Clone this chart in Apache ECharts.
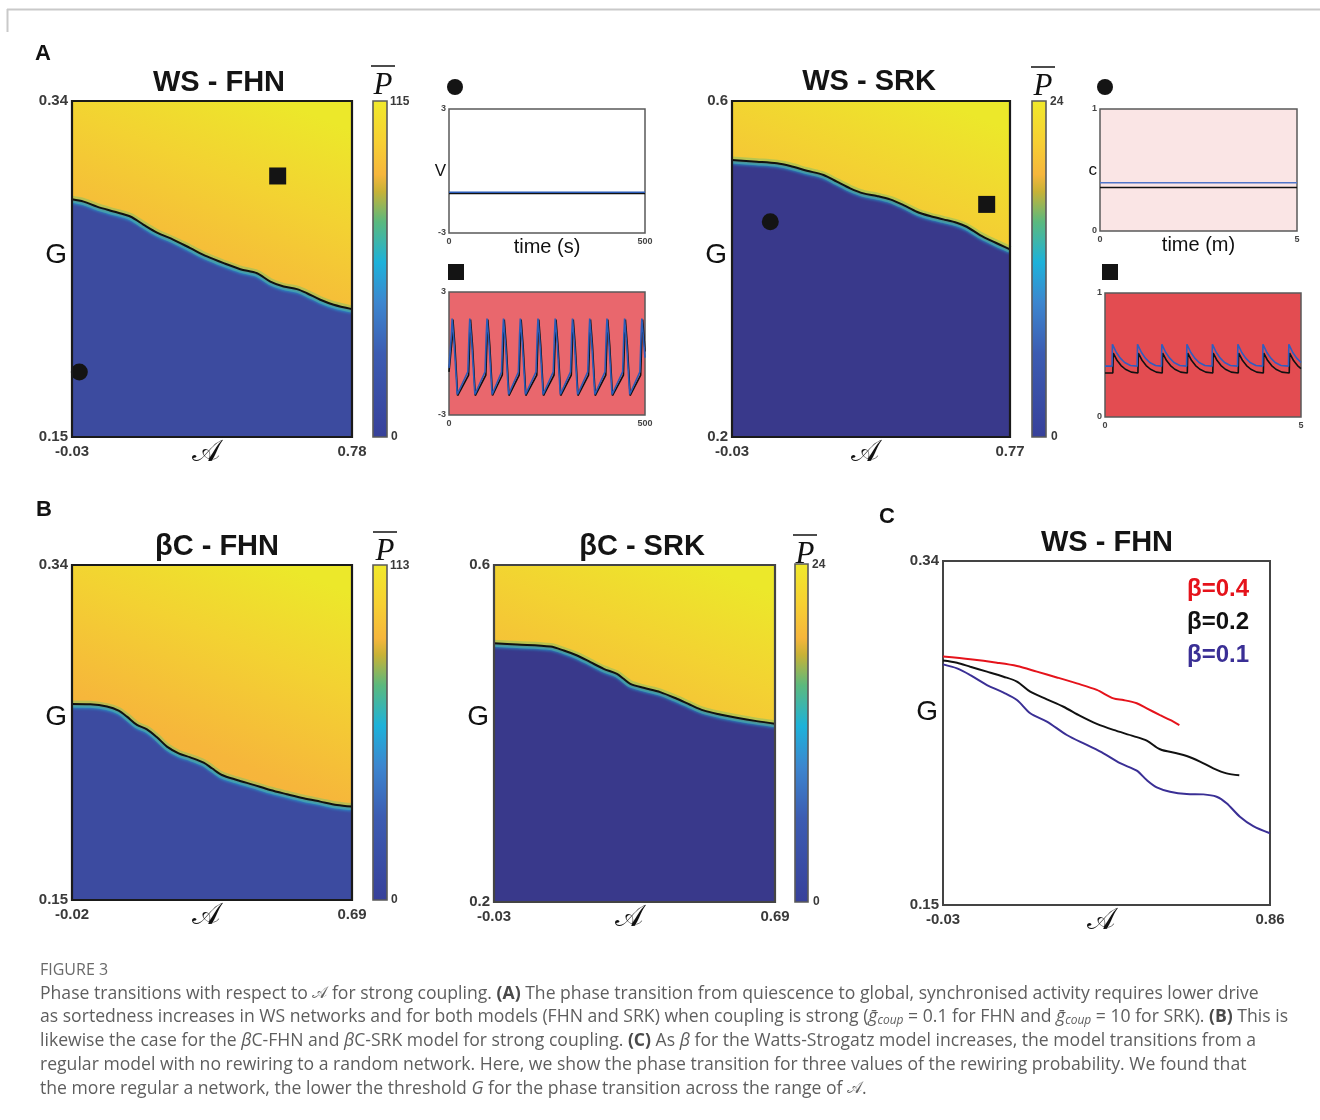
<!DOCTYPE html>
<html><head><meta charset="utf-8">
<script src="https://cdn.jsdelivr.net/npm/echarts@6/dist/echarts.min.js"></script>
<style>html,body{margin:0;padding:0;background:#fff}#c{width:1320px;height:1120px}</style>
</head><body><div id="c"></div>
<script>
// ---------------- DATA ----------------
// Panel A: WS - FHN  (A, G) boundary of the phase transition
const wsFhnBoundary = [[-0.03,0.2844],[0.0038,0.2831],[0.0423,0.2803],[0.0905,0.2775],[0.1388,0.2747],[0.1773,0.2700],[0.2159,0.2656],[0.2641,0.2615],[0.3123,0.2568],[0.3605,0.2521],[0.4088,0.2483],[0.4570,0.2449],[0.5052,0.2426],[0.5438,0.2379],[0.5823,0.2351],[0.6209,0.2336],[0.6498,0.2313],[0.6884,0.2276],[0.7270,0.2248],[0.78,0.2223]];
const wsFhnCircle = [[-0.0088,0.1867]];
const wsFhnSquare = [[0.565,0.2976]];
const wsFhnAxisA = [-0.03, 0.78];
const wsFhnAxisG = [0.15, 0.34];
const wsFhnPRange = [0, 115];

// Panel A: WS - SRK
const wsSrkBoundary = [[-0.03,0.5297],[0.0419,0.5277],[0.0993,0.5258],[0.1377,0.5226],[0.1856,0.5170],[0.2335,0.5119],[0.2718,0.5039],[0.3101,0.4960],[0.3484,0.4900],[0.3868,0.4869],[0.4251,0.4829],[0.4634,0.4761],[0.5017,0.4682],[0.5400,0.4630],[0.5783,0.4591],[0.6166,0.4551],[0.6454,0.4503],[0.6837,0.4404],[0.7220,0.4325],[0.77,0.4233]];
const wsSrkCircle = [[0.0802,0.4563]];
const wsSrkSquare = [[0.7029,0.4769]];
const wsSrkAxisA = [-0.03, 0.77];
const wsSrkAxisG = [0.2, 0.6];
const wsSrkPRange = [0, 24];

// Panel B: betaC - FHN
const bcFhnBoundary = [[-0.02,0.2612],[0.0265,0.2610],[0.0687,0.2597],[0.0983,0.2574],[0.1194,0.2540],[0.1448,0.2493],[0.1701,0.2468],[0.1955,0.2423],[0.2208,0.2370],[0.2504,0.2332],[0.2800,0.2309],[0.3138,0.2279],[0.3349,0.2247],[0.3603,0.2209],[0.3983,0.2181],[0.4405,0.2153],[0.4828,0.2124],[0.5250,0.2100],[0.5673,0.2077],[0.6095,0.2058],[0.6518,0.2039],[0.69,0.2030]];
const bcFhnAxisA = [-0.02, 0.69];
const bcFhnAxisG = [0.15, 0.34];
const bcFhnPRange = [0, 113];

// Panel B: betaC - SRK
const bcSrkBoundary = [[-0.03,0.5071],[0.0296,0.5056],[0.1148,0.5032],[0.1489,0.4985],[0.1830,0.4926],[0.2170,0.4847],[0.2511,0.4768],[0.2852,0.4708],[0.3022,0.4649],[0.3193,0.4590],[0.3533,0.4542],[0.3959,0.4491],[0.4385,0.4412],[0.4726,0.4341],[0.5067,0.4274],[0.5493,0.4226],[0.5919,0.4187],[0.6430,0.4147],[0.69,0.4116]];
const bcSrkAxisA = [-0.03, 0.69];
const bcSrkAxisG = [0.2, 0.6];
const bcSrkPRange = [0, 24];

// Panel C: WS - FHN for three rewiring probabilities
const cBeta04 = [[-0.03,0.2872],[0.0443,0.2857],[0.1168,0.2838],[0.1712,0.2820],[0.2255,0.2789],[0.2799,0.2757],[0.3342,0.2724],[0.3886,0.2688],[0.4339,0.2641],[0.4611,0.2632],[0.4973,0.2614],[0.5245,0.2586],[0.5607,0.2549],[0.5879,0.2522],[0.6133,0.2494]];
const cBeta02 = [[-0.03,0.2850],[0.0081,0.2838],[0.0443,0.2816],[0.0896,0.2789],[0.1349,0.2761],[0.1712,0.2734],[0.2074,0.2678],[0.2527,0.2636],[0.2980,0.2595],[0.3433,0.2544],[0.3886,0.2500],[0.4339,0.2467],[0.4883,0.2433],[0.5245,0.2408],[0.5607,0.2360],[0.6060,0.2338],[0.6332,0.2323],[0.6694,0.2292],[0.7057,0.2255],[0.7419,0.2227],[0.7764,0.2216]];
const cBeta01 = [[-0.03,0.2829],[0.0081,0.2807],[0.0443,0.2770],[0.0896,0.2715],[0.1349,0.2673],[0.1712,0.2632],[0.2074,0.2559],[0.2527,0.2513],[0.3070,0.2439],[0.3614,0.2384],[0.4067,0.2338],[0.4520,0.2283],[0.4973,0.2242],[0.5245,0.2190],[0.5517,0.2150],[0.5879,0.2126],[0.6332,0.2113],[0.6785,0.2111],[0.7147,0.2098],[0.7419,0.2062],[0.7781,0.1988],[0.8144,0.1936],[0.86,0.1896]];
const cBetaNames = ['β=0.4', 'β=0.2', 'β=0.1'];
const cAxisA = [-0.03, 0.86];
const cAxisG = [0.15, 0.34];

// Insets: FHN voltage traces (time s, V)
const fhnQuietBlue = [[0,-1.03],[500,-1.03]];
const fhnQuietBlack = [[0,-1.09],[500,-1.09]];
const fhnSpikeBlue = [[0,-0.7],[6,0.9],[8,1.7],[10,1.7],[13,0.5],[21,-2.0],
 [48,-0.9],[51,0.9],[53,1.7],[55,1.7],[58,0.5],[66,-2.0],
 [92,-0.9],[95,0.9],[97,1.7],[99,1.7],[102,0.5],[110,-2.0],
 [134,-0.9],[137,0.9],[139,1.7],[141,1.7],[144,0.5],[152,-2.0],
 [177,-0.9],[180,0.9],[182,1.7],[184,1.7],[187,0.5],[195,-2.0],
 [222,-0.9],[225,0.9],[227,1.7],[229,1.7],[232,0.5],[240,-2.0],
 [266,-0.9],[269,0.9],[271,1.7],[273,1.7],[276,0.5],[284,-2.0],
 [310,-0.9],[313,0.9],[315,1.7],[317,1.7],[320,0.5],[328,-2.0],
 [354,-0.9],[357,0.9],[359,1.7],[361,1.7],[364,0.5],[372,-2.0],
 [398,-0.9],[401,0.9],[403,1.7],[405,1.7],[408,0.5],[416,-2.0],
 [443,-0.9],[446,0.9],[448,1.7],[450,1.7],[453,0.5],[461,-2.0],
 [487,-0.9],[490,0.9],[492,1.7],[494,1.7],[497,0.5],[500,-0.2]];
const fhnSpikeBlack = [[0,-0.9],[8,0.7],[10,1.65],[12,1.65],[15,0.4],[22,-2.05],
 [50,-1.05],[53,0.7],[55,1.65],[57,1.65],[60,0.4],[67,-2.05],
 [94,-1.05],[97,0.7],[99,1.65],[101,1.65],[104,0.4],[111,-2.05],
 [136,-1.05],[139,0.7],[141,1.65],[143,1.65],[146,0.4],[153,-2.05],
 [179,-1.05],[182,0.7],[184,1.65],[186,1.65],[189,0.4],[196,-2.05],
 [224,-1.05],[227,0.7],[229,1.65],[231,1.65],[234,0.4],[241,-2.05],
 [268,-1.05],[271,0.7],[273,1.65],[275,1.65],[278,0.4],[285,-2.05],
 [312,-1.05],[315,0.7],[317,1.65],[319,1.65],[322,0.4],[329,-2.05],
 [356,-1.05],[359,0.7],[361,1.65],[363,1.65],[366,0.4],[373,-2.05],
 [400,-1.05],[403,0.7],[405,1.65],[407,1.65],[410,0.4],[417,-2.05],
 [445,-1.05],[448,0.7],[450,1.65],[452,1.65],[455,0.4],[462,-2.05],
 [489,-1.05],[492,0.7],[494,1.65],[496,1.65],[499,0.4],[500,0.1]];
const fhnTimeTicks = [0, 500];
const fhnVTicks = [-3, 3];

// Insets: SRK calcium traces (time m, c)
const srkQuietBlue = [[0,0.395],[5,0.395]];
const srkQuietBlack = [[0,0.357],[5,0.357]];
const srkBurstBlue = [[0,0.41],[0.18,0.41],[0.19,0.586],[0.29,0.52],[0.39,0.475],[0.5,0.44],[0.65,0.415],[0.82,0.41],
 [0.83,0.586],[0.93,0.52],[1.03,0.475],[1.14,0.44],[1.29,0.415],[1.44,0.41],
 [1.45,0.586],[1.55,0.52],[1.65,0.475],[1.76,0.44],[1.91,0.415],[2.08,0.41],
 [2.09,0.586],[2.19,0.52],[2.29,0.475],[2.4,0.44],[2.55,0.415],[2.73,0.41],
 [2.74,0.586],[2.84,0.52],[2.94,0.475],[3.05,0.44],[3.2,0.415],[3.38,0.41],
 [3.39,0.586],[3.49,0.52],[3.59,0.475],[3.7,0.44],[3.85,0.415],[4.02,0.41],
 [4.03,0.586],[4.13,0.52],[4.23,0.475],[4.34,0.44],[4.49,0.415],[4.68,0.41],
 [4.69,0.586],[4.79,0.52],[4.89,0.475],[5,0.44]];
const srkBurstBlack = [[0,0.355],[0.2,0.355],[0.21,0.516],[0.31,0.455],[0.41,0.415],[0.52,0.385],[0.67,0.362],[0.84,0.355],
 [0.85,0.516],[0.95,0.455],[1.05,0.415],[1.16,0.385],[1.31,0.362],[1.46,0.355],
 [1.47,0.516],[1.57,0.455],[1.67,0.415],[1.78,0.385],[1.93,0.362],[2.1,0.355],
 [2.11,0.516],[2.21,0.455],[2.31,0.415],[2.42,0.385],[2.57,0.362],[2.75,0.355],
 [2.76,0.516],[2.86,0.455],[2.96,0.415],[3.07,0.385],[3.22,0.362],[3.4,0.355],
 [3.41,0.516],[3.51,0.455],[3.61,0.415],[3.72,0.385],[3.87,0.362],[4.04,0.355],
 [4.05,0.516],[4.15,0.455],[4.25,0.415],[4.36,0.385],[4.51,0.362],[4.7,0.355],
 [4.71,0.516],[4.81,0.455],[4.91,0.415],[5,0.39]];
const srkTimeTicks = [0, 5];
const srkCTicks = [0, 1];

// ---------------- LAYOUT / STYLE ----------------
const F = '"Liberation Sans", Arial, Helvetica, sans-serif';
const SCRIPT = '"DejaVu Serif", "DejaVu Sans", "Noto Sans", serif';
const CAP = '"Open Sans", Lato, sans-serif';
const fmt = v => String(+Number(v).toFixed(2));

const G = [
  {left:72,  top:101, width:280, height:336}, // 0 WS-FHN heat
  {left:449, top:109, width:196, height:124}, // 1 FHN quiet
  {left:449, top:292, width:196, height:123}, // 2 FHN spiking
  {left:732, top:101, width:278, height:336}, // 3 WS-SRK heat
  {left:1100,top:109, width:197, height:122}, // 4 SRK quiet
  {left:1105,top:293, width:196, height:124}, // 5 SRK bursting
  {left:72,  top:565, width:280, height:335}, // 6 bC-FHN heat
  {left:494, top:565, width:281, height:337}, // 7 bC-SRK heat
  {left:943, top:561, width:327, height:344}  // 8 C lines
];

const yellowGrad = () => new echarts.graphic.LinearGradient(0.25, 1, 0.75, 0, [
  {offset:0, color:'#f7a843'}, {offset:0.45, color:'#f6b63b'},
  {offset:0.75, color:'#f3d232'}, {offset:1, color:'#ece82a'}]);

const grids = G.map((g, i) => {
  const heat = [0,3,6,7].includes(i);
  const o = Object.assign({}, g, {show:true, containLabel:false});
  if (heat) { o.backgroundColor = yellowGrad(); o.borderWidth = 0; }
  else if (i === 8) { o.backgroundColor = '#fff'; o.borderColor = '#444'; o.borderWidth = 2; }
  else {
    o.backgroundColor = ({1:'#ffffff', 2:'#e9676d', 4:'#fae5e5', 5:'#e34c51'})[i];
    o.borderColor = '#5a5a5a'; o.borderWidth = 1.5;
  }
  return o;
});

function mainAxes(gi, aTicks, gTicks, gShift) {
  const x = {
    gridIndex: gi, type:'value', min:aTicks[0], max:aTicks[1],
    axisLine:{show:false}, axisTick:{show:false}, splitLine:{show:false},
    axisLabel:{customValues:aTicks, formatter:fmt, fontFamily:F, fontWeight:'bold', fontSize:15, color:'#3a3a3a', margin:7},
    name:'𝒜', nameLocation:'middle', nameGap:1, nameMoveOverlap:false,
    nameTextStyle:{fontFamily:SCRIPT, fontSize:30, color:'#111', padding:[0,12,0,0]}
  };
  const y = {
    gridIndex: gi, type:'value', min:gTicks[0], max:gTicks[1],
    axisLine:{show:false}, axisTick:{show:false}, splitLine:{show:false},
    axisLabel:{customValues:gTicks, formatter:fmt, fontFamily:F, fontWeight:'bold', fontSize:15, color:'#3a3a3a', margin:4},
    name:'G', nameLocation:'middle', nameRotate:0, nameGap:5, nameMoveOverlap:false,
    nameTextStyle:{fontFamily:F, fontSize:28, color:'#111', verticalAlign:'bottom', lineHeight:gShift*2}
  };
  return [x, y];
}
function insetAxes(gi, tTicks, vTicks, tName, vName) {
  const lab = {fontFamily:F, fontWeight:'bold', fontSize:9, color:'#444'};
  const x = {
    gridIndex: gi, type:'value', min:tTicks[0], max:tTicks[1],
    axisLine:{show:false}, axisTick:{show:false}, splitLine:{show:false},
    axisLabel:Object.assign({customValues:tTicks, formatter:fmt, margin:4}, lab)
  };
  const y = {
    gridIndex: gi, type:'value', min:vTicks[0], max:vTicks[1],
    axisLine:{show:false}, axisTick:{show:false}, splitLine:{show:false},
    axisLabel:Object.assign({customValues:vTicks, formatter:fmt, margin:3}, lab)
  };
  if (tName) { Object.assign(x, {name:tName, nameLocation:'middle', nameGap:4, nameMoveOverlap:false,
      nameTextStyle:{fontFamily:F, fontSize:20, color:'#111'}}); }
  if (vName) { Object.assign(y, {name:vName, nameLocation:'middle', nameRotate:0, nameGap:3, nameMoveOverlap:false,
      nameTextStyle:{fontFamily:F, fontSize:17, color:'#111'}}); }
  return [x, y];
}

const axesPairs = [
  mainAxes(0, wsFhnAxisA, wsFhnAxisG, 14),
  insetAxes(1, fhnTimeTicks, fhnVTicks, 'time (s)', 'V'),
  insetAxes(2, fhnTimeTicks, fhnVTicks),
  mainAxes(3, wsSrkAxisA, wsSrkAxisG, 14),
  insetAxes(4, srkTimeTicks, srkCTicks, 'time (m)', 'c'),
  insetAxes(5, srkTimeTicks, srkCTicks),
  mainAxes(6, bcFhnAxisA, bcFhnAxisG, 15),
  mainAxes(7, bcSrkAxisA, bcSrkAxisG, 16),
  mainAxes(8, cAxisA, cAxisG, 21)
];
const xAxes = axesPairs.map(p => p[0]);
const yAxes = axesPairs.map(p => p[1]);

function boundarySeries(gi, data, blue) {
  return [
    {type:'line', xAxisIndex:gi, yAxisIndex:gi, data, symbol:'none', smooth:0.3, silent:true,
     lineStyle:{color:'#86c266', width:7, opacity:0.55},
     areaStyle:{color:blue, opacity:1, origin:'start'}, z:2},
    {type:'line', xAxisIndex:gi, yAxisIndex:gi, data, symbol:'none', smooth:0.3, silent:true,
     lineStyle:{color:'#111', width:2, shadowColor:'rgba(30,180,225,0.95)', shadowBlur:3, shadowOffsetY:3}, z:3}
  ];
}
function markerSeries(gi, data, sym) {
  return {type:'scatter', xAxisIndex:gi, yAxisIndex:gi, data, symbol:sym, symbolSize:17, clip:false,
    itemStyle:{color:'#141414', opacity:1}, z:5};
}
function traceSeries(gi, data, color) {
  return {type:'line', xAxisIndex:gi, yAxisIndex:gi, data, symbol:'none', silent:true,
    lineStyle:{color, width:1.6}, z:3};
}

const TRACE_BLUE = '#2b5cb8';
const series = [
  ...boundarySeries(0, wsFhnBoundary, '#3c4b9f'),
  markerSeries(0, wsFhnCircle, 'circle'),
  markerSeries(0, wsFhnSquare, 'rect'),
  traceSeries(1, fhnQuietBlack, '#111'), traceSeries(1, fhnQuietBlue, TRACE_BLUE),
  traceSeries(2, fhnSpikeBlack, '#111'), traceSeries(2, fhnSpikeBlue, TRACE_BLUE),
  ...boundarySeries(3, wsSrkBoundary, '#39398b'),
  markerSeries(3, wsSrkCircle, 'circle'),
  markerSeries(3, wsSrkSquare, 'rect'),
  traceSeries(4, srkQuietBlack, '#111'), traceSeries(4, srkQuietBlue, '#4f75c9'),
  traceSeries(5, srkBurstBlack, '#111'), traceSeries(5, srkBurstBlue, '#2f5dc0'),
  ...boundarySeries(6, bcFhnBoundary, '#3c4ba0'),
  ...boundarySeries(7, bcSrkBoundary, '#39398b'),
  {type:'line', name:cBetaNames[0], xAxisIndex:8, yAxisIndex:8, data:cBeta04, symbol:'none', smooth:0.3, lineStyle:{color:'#e5131b', width:2}, itemStyle:{color:'#e5131b'}},
  {type:'line', name:cBetaNames[1], xAxisIndex:8, yAxisIndex:8, data:cBeta02, symbol:'none', smooth:0.3, lineStyle:{color:'#111', width:2}, itemStyle:{color:'#111'}},
  {type:'line', name:cBetaNames[2], xAxisIndex:8, yAxisIndex:8, data:cBeta01, symbol:'none', smooth:0.3, lineStyle:{color:'#3a2f95', width:2}, itemStyle:{color:'#3a2f95'}}
];

// ---------------- GRAPHIC DECORATION ----------------
const graphic = [];
// page frame
graphic.push({type:'line', shape:{x1:7, y1:9.5, x2:1320, y2:9.5}, style:{stroke:'#c9c9c9', lineWidth:2}});
graphic.push({type:'line', shape:{x1:7.5, y1:9, x2:7.5, y2:32}, style:{stroke:'#c9c9c9', lineWidth:2}});
// frames over heat panels
[0,3,6,7].forEach(i => {
  const g = G[i];
  graphic.push({type:'rect', shape:{x:g.left, y:g.top, width:g.width, height:g.height},
    style:{fill:null, stroke: i===7 ? '#444' : '#1a1a1a', lineWidth:2.2}, z:100});
});
// panel letters
[['A',43,54],['B',44,510],['C',887,517]].forEach(([t,x,y]) => graphic.push({type:'text', x, y,
  style:{text:t, font:'bold 22px ' + F, fill:'#111', textAlign:'center', textVerticalAlign:'middle'}}));
// titles
[['WS - FHN',219,83],['WS - SRK',869,82],['βC - FHN',217,547],['βC - SRK',642,547],['WS - FHN',1107,543]].forEach(([t,x,y]) =>
  graphic.push({type:'text', x, y, style:{text:t, font:'bold 29px ' + F, fill:'#141414', textAlign:'center', textVerticalAlign:'middle'}}));
// colour bars
const parulaStops = [
  {offset:0, color:'#f0e92a'}, {offset:0.12, color:'#f7d032'}, {offset:0.22, color:'#f6b63c'},
  {offset:0.27, color:'#c8b236'}, {offset:0.36, color:'#5bb97e'}, {offset:0.48, color:'#1db2da'},
  {offset:0.6, color:'#3c86cf'}, {offset:0.75, color:'#3c5cb2'}, {offset:1, color:'#37409a'}];
function colorbar(x, y, w, h, range, labelX, pcx, pTop) {
  graphic.push({type:'rect', shape:{x, y, width:w, height:h},
    style:{fill:new echarts.graphic.LinearGradient(0,0,0,1,parulaStops), stroke:'#5a5a5a', lineWidth:1.6}, z:50});
  graphic.push({type:'text', x:labelX, y:y+1, style:{text:String(range[1]), font:'bold 12px ' + F, fill:'#3a3a3a', textVerticalAlign:'middle'}});
  graphic.push({type:'text', x:labelX+1, y:y+h, style:{text:String(range[0]), font:'bold 12px ' + F, fill:'#3a3a3a', textVerticalAlign:'middle'}});
  graphic.push({type:'text', x:pcx, y:pTop+4, style:{text:'P', font:'italic 31px "Liberation Serif", "DejaVu Serif", serif', fill:'#111', textAlign:'center', textVerticalAlign:'top'}});
  graphic.push({type:'line', shape:{x1:pcx-12, y1:pTop, x2:pcx+12, y2:pTop}, style:{stroke:'#111', lineWidth:1.5}});
}
colorbar(373, 101, 14, 336, wsFhnPRange, 390, 383, 66);
colorbar(1032, 101, 14, 336, wsSrkPRange, 1050, 1043, 67);
colorbar(373, 565, 14, 335, bcFhnPRange, 390, 385, 532);
colorbar(795, 564, 13, 338, bcSrkPRange, 812, 805, 535);
// inset state icons
[[455,87],[1105,87]].forEach(([x,y]) => graphic.push({type:'circle', shape:{cx:x, cy:y, r:8}, style:{fill:'#141414'}}));
[[456,272],[1110,272]].forEach(([x,y]) => graphic.push({type:'rect', shape:{x:x-8, y:y-8, width:16, height:16}, style:{fill:'#141414'}}));

// caption
const CAPSIZE = 17.6;
const capRich = {
  b:{fontFamily:CAP, fontSize:CAPSIZE, fontWeight:'bold', fill:'#4a4a4a'},
  i:{fontFamily:CAP, fontSize:CAPSIZE, fontStyle:'italic', fill:'#5e5e5e'},
  s:{fontFamily:CAP, fontSize:12, fontStyle:'italic', fill:'#5e5e5e', padding:[8,0,0,0]},
  a:{fontFamily:SCRIPT, fontSize:16, fill:'#5e5e5e'}
};
graphic.push({type:'text', x:40, y:970, style:{text:'FIGURE 3', font:'16px ' + CAP, fill:'#6a6a6a', textVerticalAlign:'middle'}});
const capLines = [
  'Phase transitions with respect to {a|𝒜} for strong coupling. {b|(A)} The phase transition from quiescence to global, synchronised activity requires lower drive',
  'as sortedness increases in WS networks and for both models (FHN and SRK) when coupling is strong ({i|ḡ}{s|coup} = 0.1 for FHN and {i|ḡ}{s|coup} = 10 for SRK). {b|(B)} This is',
  'likewise the case for the {i|β}C-FHN and {i|β}C-SRK model for strong coupling. {b|(C)} As {i|β} for the Watts-Strogatz model increases, the model transitions from a',
  'regular model with no rewiring to a random network. Here, we show the phase transition for three values of the rewiring probability. We found that',
  'the more regular a network, the lower the threshold {i|G} for the phase transition across the range of {a|𝒜}.'
];
const capY = [994, 1017, 1041, 1065, 1089];
capLines.forEach((t, k) => graphic.push({type:'text', x:40, y:capY[k],
  style:{text:t, font:CAPSIZE + 'px ' + CAP, fill:'#5e5e5e', textVerticalAlign:'middle', rich:capRich}}));

const chart = echarts.init(document.getElementById('c'), null, {renderer:'canvas', width:1320, height:1120});
chart.setOption({
  backgroundColor:'#ffffff',
  animation:false,
  grid: grids,
  xAxis: xAxes,
  yAxis: yAxes,
  legend: {
    data: [
      {name:cBetaNames[0], textStyle:{color:'#e5131b'}},
      {name:cBetaNames[1], textStyle:{color:'#111'}},
      {name:cBetaNames[2], textStyle:{color:'#3a2f95'}}],
    orient:'vertical', left:1177, top:572, icon:'none', itemWidth:0, itemGap:9, selectedMode:false,
    textStyle:{fontFamily:F, fontSize:24, fontWeight:'bold'}
  },
  series,
  graphic
});
</script>
</body></html>
